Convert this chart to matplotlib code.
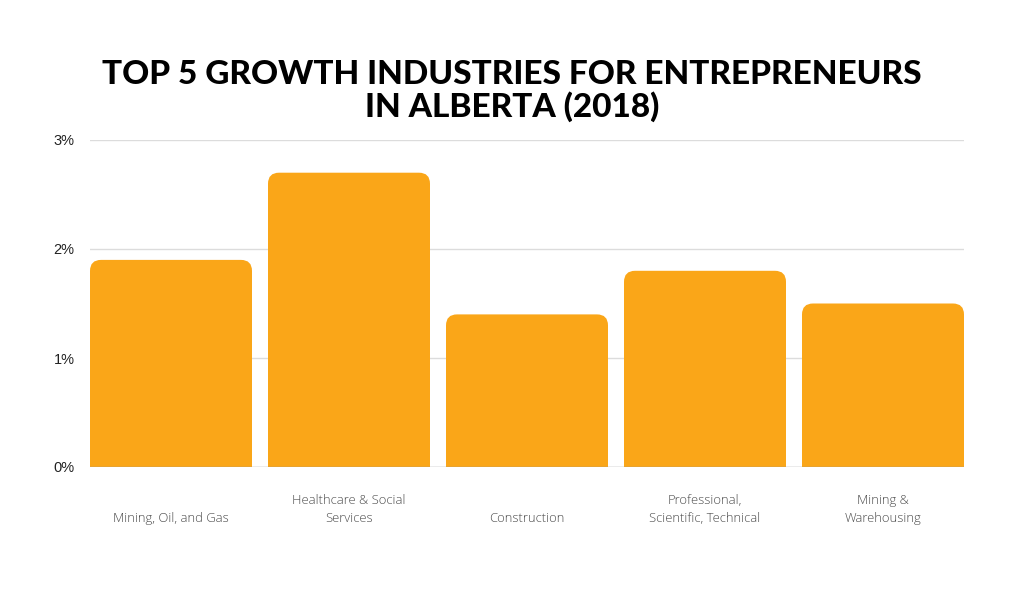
import matplotlib
matplotlib.use("Agg")
import matplotlib.pyplot as plt
from matplotlib.patches import FancyBboxPatch, Rectangle
import numpy as np

title = "TOP 5 GROWTH INDUSTRIES FOR ENTREPRENEURS\nIN ALBERTA (2018)"
categories = ["Mining, Oil, and Gas", "Healthcare & Social\nServices", "Construction",
              "Professional,\nScientific, Technical", "Mining &\nWarehousing"]
values = [1.9, 2.7, 1.4, 1.8, 1.5]
yticks = [0, 1, 2, 3]
ytick_labels = ["0%", "1%", "2%", "3%"]

W, H = 1024, 600
fig = plt.figure(figsize=(W / 100, H / 100), dpi=100)
fig.patch.set_facecolor("white")
ax = fig.add_axes([90 / W, (H - 467) / H, (964 - 90) / W, (467 - 140) / H])

bar_w = 162 / 178
x = np.arange(len(values))
ax.set_xlim(-bar_w / 2, len(values) - 1 + bar_w / 2)
ax.set_ylim(0, 3)

color = "#FAA618"
px_x = ax.transData.transform((1, 0))[0] - ax.transData.transform((0, 0))[0]
px_y = ax.transData.transform((0, 1))[1] - ax.transData.transform((0, 0))[1]
r_px = 11
r_x = r_px / px_x
aspect = px_x / px_y
for xi, v in zip(x, values):
    p = FancyBboxPatch((xi - bar_w / 2, 0), bar_w, v,
                       boxstyle=f"round,pad=0,rounding_size={r_x}",
                       mutation_aspect=aspect, facecolor=color, edgecolor="none", zorder=3)
    ax.add_patch(p)
    ax.add_patch(Rectangle((xi - bar_w / 2, 0), bar_w, v / 2, facecolor=color,
                           edgecolor="none", zorder=3))

for t in yticks[1:]:
    ax.axhline(t, color="#dcdcdc", lw=1, zorder=1)
ax.axhline(0, color="#9a9a9a", lw=1, zorder=4)

for s in ax.spines.values():
    s.set_visible(False)
ax.set_yticks(yticks)
ax.set_yticklabels(ytick_labels, fontsize=10.5, color="#222222", family="Liberation Sans")
ax.tick_params(axis="y", length=0, pad=11)
ax.set_xticks([])

trans = matplotlib.transforms.blended_transform_factory(ax.transData, fig.transFigure)
for xi, lab in zip(x, categories):
    ax.text(xi, (H - 525) / H, lab, transform=trans, ha="center", va="bottom",
            fontsize=9.4, color="#4a4a4a", family="Open Sans", fontweight="light",
            linespacing=1.5, multialignment="center")

fig.text(0.5, (H - 91) / H, title, ha="center", va="center", fontsize=24,
         fontweight="black", family="Lato", color="black", linespacing=1.05)

fig.savefig("out.png", dpi=100, facecolor="white")
